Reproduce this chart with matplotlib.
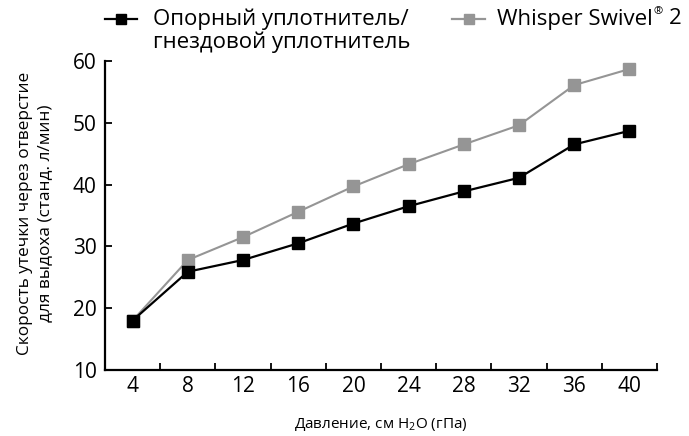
import matplotlib
matplotlib.use("Agg")
import matplotlib.pyplot as plt
from matplotlib.lines import Line2D

plt.rcParams["font.family"] = ["Open Sans", "DejaVu Sans"]
plt.rcParams["mathtext.fontset"] = "custom"
plt.rcParams["mathtext.rm"] = "Open Sans"
plt.rcParams["mathtext.it"] = "Open Sans"

pressure = ["4", "8", "12", "16", "20", "24", "28", "32", "36", "40"]
support_seal = [18.0, 25.9, 27.8, 30.5, 33.7, 36.5, 38.9, 41.1, 46.5, 48.7]
whisper_swivel = [18.0, 27.8, 31.5, 35.6, 39.7, 43.3, 46.5, 49.6, 56.1, 58.7]
y_ticks = [10, 20, 30, 40, 50, 60]

BLACK = "#000000"
GRAY = "#959595"

fig = plt.figure(figsize=(6.89, 4.36), dpi=100)
ax = fig.add_axes([105 / 689, 1 - 370 / 436, 552 / 689, 309 / 436])

x = list(range(len(pressure)))
ax.plot(x, whisper_swivel, color=GRAY, lw=1.5, marker="s", ms=8.5,
        mfc=GRAY, mec=GRAY, zorder=3)
ax.plot(x, support_seal, color=BLACK, lw=1.6, marker="s", ms=8.5,
        mfc=BLACK, mec=BLACK, zorder=4)

ax.set_xlim(-0.5, len(pressure) - 0.5)
ax.set_ylim(10, 60)
ax.set_yticks(y_ticks)
ax.set_xticks(x)
ax.set_xticklabels(pressure)
ax.set_xticks([i + 0.5 for i in range(-1, len(pressure))], minor=True)

for side in ("top", "right"):
    ax.spines[side].set_visible(False)
for side in ("left", "bottom"):
    ax.spines[side].set_linewidth(1.6)

ax.tick_params(axis="y", direction="in", length=5, width=1.3,
               labelsize=15, pad=6)
ax.tick_params(axis="x", which="major", length=0, labelsize=15, pad=4)
ax.tick_params(axis="x", which="minor", direction="in", length=5, width=1.3)

ax.set_xlabel("Давление, см H$_2$O (гПа)", fontsize=11, va="center")
ax.xaxis.set_label_coords(0.5, -(424 - 370) / 309)
ax.set_ylabel("Скорость утечки через отверстие\nдля выдоха (станд. л/мин)",
              fontsize=12.4, linespacing=1.4, va="center")
ax.yaxis.set_label_coords(-(105 - 35) / 552, (370 - 213) / 309)

# legend drawn in figure coordinates
def legend_handle(x0, x1, y, color):
    fig.add_artist(Line2D([x0 / 689, x1 / 689], [1 - y / 436, 1 - y / 436],
                          transform=fig.transFigure, color=color, lw=1.6))
    fig.add_artist(Line2D([(x0 + x1) / 2 / 689], [1 - y / 436],
                          transform=fig.transFigure, color=color, marker="s",
                          ms=7, mfc=color, mec=color, lw=0))

legend_handle(105, 137, 19, BLACK)
fig.text(153 / 689, 1 - 19 / 436, "Опорный уплотнитель/",
         fontsize=16, va="center", ha="left")
fig.text(153 / 689, 1 - 42 / 436, "гнездовой уплотнитель",
         fontsize=16, va="center", ha="left")

legend_handle(452, 485, 19, GRAY)
renderer = fig.canvas.get_renderer()
t1 = fig.text(497 / 689, 1 - 19 / 436, "Whisper Swivel",
              fontsize=16, va="center", ha="left")
x_end = t1.get_window_extent(renderer).x1
t2 = fig.text((x_end + 1) / 689, 1 - 12 / 436, "®",
              fontsize=8, va="center", ha="left")
x_end = t2.get_window_extent(renderer).x1
fig.text((x_end + 6) / 689, 1 - 19 / 436, "2",
         fontsize=16, va="center", ha="left")

fig.savefig("out.png", dpi=100)
